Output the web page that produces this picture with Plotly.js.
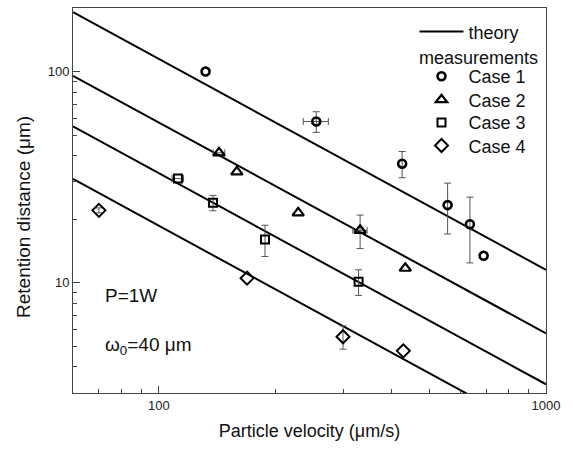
<!DOCTYPE html>
<html>
<head>
<meta charset="utf-8">
<script src="https://cdn.plot.ly/plotly-3.0.1.min.js"></script>
<style>html,body{margin:0;padding:0;background:#fff;}#chart{width:573px;height:452px;}</style>
</head>
<body>
<div id="chart"></div>
<script>
// ---- data ----
var theoryX = [60, 1000];
var theory1 = [191, 11.5];
var theory2 = [95.5, 5.75];
var theory3 = [55, 3.3];
var theory4 = [31, 1.86];

var case1X = [132, 255, 425, 557, 636, 690];
var case1Y = [100, 58, 36.6, 23.3, 18.9, 13.4];
var case1ErrY = [null, 6.5, 5.2, 6.3, 6.5, null];
var case1ErrX = [null, 19, null, null, null, null];

var case2X = [143, 159, 229, 331, 433];
var case2Y = [41.2, 33.5, 21.4, 17.7, 11.7];
var case2ErrY = [null, null, null, 3.2, null];
var case2ErrX = [5, null, null, 14, null];

var case3X = [112, 138, 188, 328];
var case3Y = [31.1, 23.9, 16.0, 10.1];
var case3ErrY = [null, 2, 2.7, 1.4];
var case3ErrX = [3.8, null, null, null];

var case4X = [70, 169, 299, 428];
var case4Y = [22, 10.5, 5.54, 4.75];
var case4ErrY = [0.6, null, 0.7, null];
var case4ErrX = [null, null, null, null];

var caseNames = ['Case 1', 'Case 2', 'Case 3', 'Case 4'];
var xMajor = [100, 1000];
var xMinor = [70, 80, 90, 200, 300, 400, 500, 600, 700, 800, 900];
var yMajor = [10, 100];
var yMinor = [4, 5, 6, 7, 8, 9, 20, 30, 40, 50, 60, 70, 80, 90];

var FONT = 'Liberation Sans, Arial, Helvetica, sans-serif';
var lineStyle = {color: '#000', width: 2};
var errStyle = {color: '#555', thickness: 1, width: 3.5};

function theory(y, show) {
  return {x: theoryX, y: y, mode: 'lines', line: lineStyle, name: 'theory',
    legend: 'legend', legendgroup: 'theory', showlegend: show, hoverinfo: 'skip'};
}
function keep(err) {
  var idx = [];
  err.forEach(function (v, i) { if (v !== null) idx.push(i); });
  return idx;
}
function pick(arr, idx) { return idx.map(function (i) { return arr[i]; }); }

function errorTraces(x, y, ey, ex) {
  var out = [];
  var iy = keep(ey), ix = keep(ex);
  if (iy.length) out.push({x: pick(x, iy), y: pick(y, iy), mode: 'markers', showlegend: false,
    marker: {size: 1, opacity: 0}, hoverinfo: 'skip',
    error_y: Object.assign({type: 'data', array: pick(ey, iy), visible: true}, errStyle)});
  if (ix.length) out.push({x: pick(x, ix), y: pick(y, ix), mode: 'markers', showlegend: false,
    marker: {size: 1, opacity: 0}, hoverinfo: 'skip',
    error_x: Object.assign({type: 'data', array: pick(ex, ix), visible: true}, errStyle)});
  return out;
}
function caseTrace(name, x, y, symbol, size, lw, legendId) {
  return {x: x, y: y, mode: 'markers', name: name, legend: legendId,
    marker: {symbol: symbol, size: size, color: '#000', line: {color: '#000', width: lw}}};
}

var data = [
  theory(theory1, true), theory(theory2, false), theory(theory3, false), theory(theory4, false)
].concat(
  errorTraces(case1X, case1Y, case1ErrY, case1ErrX),
  errorTraces(case2X, case2Y, case2ErrY, case2ErrX),
  errorTraces(case3X, case3Y, case3ErrY, case3ErrX),
  errorTraces(case4X, case4Y, case4ErrY, case4ErrX),
  [
    caseTrace(caseNames[0], case1X, case1Y, 'circle-open', 8, 2.6, 'legend2'),
    caseTrace(caseNames[1], case2X, case2Y, 'triangle-up-open', 10, 2.2, 'legend3'),
    caseTrace(caseNames[2], case3X, case3Y, 'square-open', 8, 2, 'legend4'),
    caseTrace(caseNames[3], case4X, case4Y, 'diamond-open', 10, 2, 'legend5')
  ]
);

var axisCommon = {
  type: 'log', showgrid: false, zeroline: false, showline: true, linecolor: '#444', linewidth: 1,
  mirror: true, ticks: 'inside', ticklen: 7, tickcolor: '#444', tickwidth: 1,
  tickmode: 'array', tickfont: {family: FONT, size: 13, color: '#222'},
  minor: {ticks: 'inside', ticklen: 4, tickcolor: '#444', tickwidth: 1, tickmode: 'array', showgrid: false}
};

function legendAt(y) {
  return {x: 0.722, y: y, xanchor: 'left', yanchor: 'middle', bgcolor: 'rgba(0,0,0,0)',
    font: {family: FONT, size: 18, color: '#111'}, itemwidth: 44};
}

var layout = {
  width: 573, height: 452,
  margin: {l: 73, r: 27, t: 8, b: 59},
  paper_bgcolor: '#fff', plot_bgcolor: '#fff',
  font: {family: FONT, color: '#000'},
  showlegend: true,
  xaxis: Object.assign({}, axisCommon, {
    range: [Math.log10(60), 3], tickvals: xMajor, ticktext: ['100', '1000'],
    minor: Object.assign({}, axisCommon.minor, {tickvals: xMinor}),
    title: {text: 'Particle velocity (μm/s)', font: {family: FONT, size: 18, color: '#111'}, standoff: 12}
  }),
  yaxis: Object.assign({}, axisCommon, {
    range: [Math.log10(3), Math.log10(200)], tickvals: yMajor, ticktext: ['10', '100'],
    minor: Object.assign({}, axisCommon.minor, {tickvals: yMinor})
  }),
  legend: legendAt(0.938),
  legend2: legendAt(0.822),
  legend3: legendAt(0.761),
  legend4: legendAt(0.702),
  legend5: legendAt(0.642),
  annotations: [
    {xref: 'paper', yref: 'paper', x: -0.105, y: 0.458, xanchor: 'center', yanchor: 'middle',
     text: 'Retention distance (μm)', textangle: -90, showarrow: false,
     font: {family: FONT, size: 19, color: '#111'}},
    {xref: 'paper', yref: 'paper', x: 0.064, y: 0.254, xanchor: 'left', yanchor: 'middle',
     text: 'P=1W', showarrow: false, font: {family: FONT, size: 19, color: '#111'}},
    {xref: 'paper', yref: 'paper', x: 0.064, y: 0.121, xanchor: 'left', yanchor: 'middle',
     text: 'ω<sub>0</sub>=40 μm', showarrow: false, font: {family: FONT, size: 19, color: '#111'}},
    {xref: 'paper', yref: 'paper', x: 0.727, y: 0.871, xanchor: 'left', yanchor: 'middle',
     text: 'measurements', showarrow: false, font: {family: FONT, size: 18, color: '#111'}}
  ]
};

Plotly.newPlot('chart', data, layout, {staticPlot: true, displayModeBar: false});
</script>
</body>
</html>
